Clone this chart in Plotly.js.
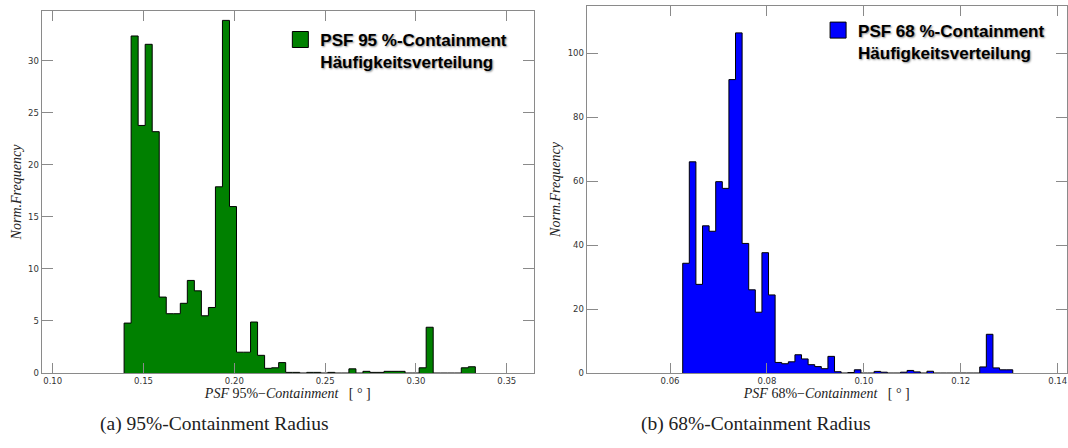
<!DOCTYPE html>
<html>
<head>
<meta charset="utf-8">
<script src="https://cdn.plot.ly/plotly-3.0.1.min.js"></script>
<style>html,body{margin:0;padding:0;background:#fff;}#chart{width:1068px;height:448px;}</style>
</head>
<body>
<div id="chart"></div>
<script>
// ---- Data: PSF 95 % containment radius histogram (normalised) ----
const psf95BinStart = 0.1393;   // degrees, left edge of first bin
const psf95BinWidth = 0.003868; // degrees
const psf95Freq = [
  4.8, 32.4, 23.8, 31.6, 23.2, 7.3, 5.7, 5.7, 6.7, 8.9,
  7.9, 5.5, 6.3, 17.9, 33.9, 16.0, 2.0, 2.0, 4.9, 1.7,
  0.45, 0.5, 1.0, 0.06, 0.06, 0, 0.06, 0.06, 0, 0.06,
  0, 0, 0.4, 0, 0.16, 0.06, 0.06, 0.16, 0.16, 0.16,
  0, 0, 0.5, 4.4, 0, 0, 0, 0, 0.5, 0.6
];

// ---- Data: PSF 68 % containment radius histogram (normalised) ----
const psf68BinStart = 0.06262;
const psf68BinWidth = 0.001362;
const psf68Freq = [
  34.3, 66.0, 27.7, 46.0, 44.3, 59.8, 57.7, 91.7, 106.3, 40.5,
  26.0, 19.0, 37.6, 24.4, 3.3, 2.9, 3.5, 5.7, 4.4, 2.6,
  2.0, 1.35, 5.2, 0.4, 0, 0.15, 1.0, 0, 0, 0.5,
  0.25, 0, 0, 0.25, 0.8, 0.35, 0, 0.55, 0, 0,
  0, 0, 0, 0, 0, 1.9, 12.1, 1.6, 1.0, 1.0
];

const legend95 = "PSF 95 %-Containment<br>Häufigkeitsverteilung";
const legend68 = "PSF 68 %-Containment<br>Häufigkeitsverteilung";
const xTitle95 = "<i>PSF</i> 95%−<i>Containment</i>   [ ° ]";
const xTitle68 = "<i>PSF</i> 68%−<i>Containment</i>   [ ° ]";
const yTitle = "Norm.Frequency";
const caption95 = "(a) 95%-Containment Radius";
const caption68 = "(b) 68%-Containment Radius";

// build a step-filled outline from bin edges and counts
function stepOutline(start, width, freq) {
  const xs = [start], ys = [0];
  for (let i = 0; i < freq.length; i++) { xs.push(start + i * width); ys.push(freq[i]); }
  const end = start + freq.length * width;
  xs.push(end); ys.push(freq[freq.length - 1]);
  xs.push(end); ys.push(0);
  return {xs, ys};
}

const s95 = stepOutline(psf95BinStart, psf95BinWidth, psf95Freq);
const s68 = stepOutline(psf68BinStart, psf68BinWidth, psf68Freq);

const GREEN = '#008000', BLUE = '#0000ff';

const traces = [
  {type:'scatter', mode:'lines', x:s95.xs, y:s95.ys, xaxis:'x', yaxis:'y',
   line:{shape:'hv', color:'#000', width:1}, fill:'tozeroy', fillcolor:GREEN,
   showlegend:false, hoverinfo:'skip'},
  {type:'scatter', mode:'markers', x:[null], y:[null], xaxis:'x', yaxis:'y',
   name:legend95, legend:'legend',
   marker:{symbol:'square', size:16, color:GREEN, line:{color:'#000', width:1}}},
  {type:'scatter', mode:'lines', x:s68.xs, y:s68.ys, xaxis:'x2', yaxis:'y2',
   line:{shape:'hv', color:'#000', width:1}, fill:'tozeroy', fillcolor:BLUE,
   showlegend:false, hoverinfo:'skip'},
  {type:'scatter', mode:'markers', x:[null], y:[null], xaxis:'x2', yaxis:'y2',
   name:legend68, legend:'legend2',
   marker:{symbol:'square', size:16, color:BLUE, line:{color:'#000', width:1}}}
];

const tickFont = {family:'DejaVu Sans', size:8.5, color:'#333'};
const titleFont = {family:'Liberation Serif', size:14, color:'#222'};
const yTitleFont = {family:'Liberation Serif', size:14, color:'#222', style:'italic'};
const axisCommon = {
  showline:true, linecolor:'#8a8a8a', linewidth:1, mirror:'ticks',
  ticks:'inside', tickcolor:'#8a8a8a', tickwidth:1, showgrid:false,
  tickfont:tickFont, zeroline:false, layer:'above traces'
};
const legendFont = {family:'Liberation Sans', size:17, weight:'bold', color:'#000',
  shadow:'1px 1px 2px rgba(0,0,0,0.45)'};

const layout = {
  width:1068, height:448, margin:{l:0, r:0, t:0, b:0},
  paper_bgcolor:'#fff', plot_bgcolor:'#fff', showlegend:true,
  xaxis: Object.assign({}, axisCommon, {domain:[0.039, 0.5], range:[0.0939, 0.365],
    tick0:0.1, dtick:0.05, tickformat:'.2f', ticklen:10, anchor:'y',
    title:{text:xTitle95, font:titleFont, standoff:0}}),
  yaxis: Object.assign({}, axisCommon, {domain:[0.1674, 0.9754], range:[0, 34.8],
    tick0:0, dtick:5, ticklen:11, anchor:'x',
    title:{text:yTitle, font:yTitleFont, standoff:3}}),
  xaxis2: Object.assign({}, axisCommon, {domain:[0.5493, 0.999], range:[0.0428, 0.1419],
    tick0:0.06, dtick:0.02, tickformat:'.2f', ticklen:10, anchor:'y2',
    title:{text:xTitle68, font:titleFont, standoff:0}}),
  yaxis2: Object.assign({}, axisCommon, {domain:[0.1674, 0.9866], range:[0, 114.7],
    tick0:0, dtick:20, ticklen:11, anchor:'x2',
    title:{text:yTitle, font:yTitleFont, standoff:3}}),
  legend:{x:0.2625, y:0.951, xref:'paper', yref:'paper', xanchor:'left', yanchor:'top',
    bgcolor:'rgba(0,0,0,0)', borderwidth:0, font:legendFont, valign:'top', itemsizing:'trace'},
  legend2:{x:0.766, y:0.972, xref:'paper', yref:'paper', xanchor:'left', yanchor:'top',
    bgcolor:'rgba(0,0,0,0)', borderwidth:0, font:legendFont, valign:'top', itemsizing:'trace'},
  annotations:[
    {text:caption95, xref:'paper', yref:'paper', x:0.2013, y:0.053, xanchor:'center', yanchor:'middle',
     showarrow:false, font:{family:'Liberation Serif', size:19.5, color:'#222'}},
    {text:caption68, xref:'paper', yref:'paper', x:0.708, y:0.053, xanchor:'center', yanchor:'middle',
     showarrow:false, font:{family:'Liberation Serif', size:19.5, color:'#222'}}
  ]
};

Plotly.newPlot('chart', traces, layout, {staticPlot:true, displayModeBar:false});
</script>
</body>
</html>
